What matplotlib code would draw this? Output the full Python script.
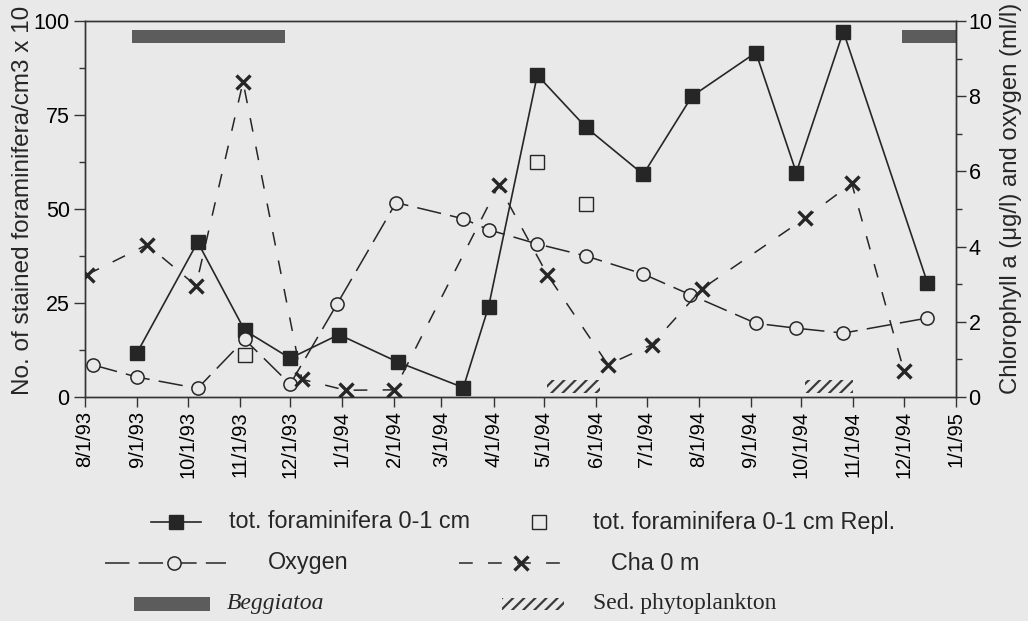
import pandas as pd
import matplotlib
matplotlib.use('Agg')
import matplotlib.pyplot as plt
import matplotlib.dates as mdates
from matplotlib.ticker import MultipleLocator

# total foraminifera 0-1 cm (left axis, no. / cm3 x 10)
foram_dates = ['1993-09-01', '1993-10-07', '1993-11-04', '1993-12-01', '1993-12-30',
               '1994-02-03', '1994-03-14', '1994-03-29', '1994-04-27', '1994-05-26',
               '1994-06-29', '1994-07-28', '1994-09-04', '1994-09-28', '1994-10-26',
               '1994-12-15']
foram_counts = [11.8, 41.2, 17.7, 10.3, 16.6, 9.3, 2.5, 24.0, 85.6, 71.7,
                59.2, 80.0, 91.6, 59.7, 97.2, 30.4]

# replicate cores
repl_dates = ['1993-11-04', '1994-04-27', '1994-05-26']
repl_counts = [11.3, 62.4, 51.2]

# oxygen (ml/l, right axis)
oxy_dates = ['1993-08-06', '1993-09-01', '1993-10-07', '1993-11-04', '1993-12-01',
             '1993-12-29', '1994-02-02', '1994-03-14', '1994-03-29', '1994-04-27',
             '1994-05-26', '1994-06-29', '1994-07-27', '1994-09-04', '1994-09-28',
             '1994-10-26', '1994-12-15']
oxy_values = [0.85, 0.53, 0.23, 1.53, 0.34, 2.48, 5.17, 4.74, 4.45, 4.07,
              3.75, 3.27, 2.72, 1.96, 1.83, 1.70, 2.10]

# chlorophyll a at 0 m (ug/l, right axis)
cha_dates = ['1993-08-02', '1993-09-07', '1993-10-06', '1993-11-03', '1993-12-08',
             '1994-01-03', '1994-02-01', '1994-04-04', '1994-05-03', '1994-06-08',
             '1994-07-04', '1994-08-03', '1994-10-03', '1994-10-31', '1994-12-01']
cha_values = [3.25, 4.05, 2.96, 8.38, 0.47, 0.18, 0.19, 5.63, 3.25, 0.86,
              1.39, 2.88, 4.75, 5.68, 0.70]

# periods with Beggiatoa mats and sedimented phytoplankton
beggiatoa_start = ['1993-08-29', '1994-11-30']
beggiatoa_end = ['1993-11-28', '1995-01-01']
phyto_start = ['1994-05-03', '1994-10-03']
phyto_end = ['1994-06-03', '1994-11-01']

month_ticks = pd.date_range('1993-08-01', '1995-01-01', freq='MS')

bg = '#e9e9e9'
ink = '#262626'
sans = ['Liberation Sans', 'DejaVu Sans']
serif = ['Liberation Serif', 'DejaVu Serif']
plt.rcParams['font.family'] = sans
plt.rcParams['hatch.linewidth'] = 1.6
plt.rcParams['hatch.color'] = '#3a3a3a'

fig = plt.figure(figsize=(10.28, 6.21), dpi=100, facecolor=bg)
ax = fig.add_axes([85 / 1028, 224 / 621, 871 / 1028, 376 / 621])
ax.set_facecolor(bg)
ax2 = ax.twinx()

def spans(starts, ends):
    s = mdates.date2num(pd.to_datetime(starts))
    e = mdates.date2num(pd.to_datetime(ends))
    return list(zip(s, e - s))

ax.broken_barh(spans(beggiatoa_start, beggiatoa_end), (94.2, 3.3),
               facecolor='#5c5c5c', edgecolor='none', zorder=2)
ax.broken_barh(spans(phyto_start, phyto_end), (1.0, 3.6),
               facecolor='none', edgecolor='#3a3a3a', linewidth=0, hatch='///', zorder=2)

ax.plot(pd.to_datetime(foram_dates), foram_counts, color=ink, lw=1.2,
        marker='s', ms=10, mfc=ink, mec=ink, zorder=4)
ax.plot(pd.to_datetime(repl_dates), repl_counts, ls='none',
        marker='s', ms=9.5, mfc=bg, mec=ink, mew=1.0, zorder=4)

ax2.plot(pd.to_datetime(oxy_dates), oxy_values, color=ink, lw=1.1, dashes=(16, 6),
         marker='o', ms=9.5, mfc=bg, mec=ink, mew=1.1, zorder=3)
ax2.plot(pd.to_datetime(cha_dates), cha_values, color=ink, lw=1.1, dashes=(9, 10),
         marker='x', ms=9.5, mec=ink, mew=2.4, zorder=3)

ax.set_xlim(pd.Timestamp('1993-08-01'), pd.Timestamp('1995-01-01'))
ax.set_ylim(0, 100)
ax2.set_ylim(0, 10)
ax.set_xticks(month_ticks)
ax.set_xticklabels([f'{d.month}/{d.day}/{d:%y}' for d in month_ticks],
                   rotation=90, fontsize=14.5)
ax.yaxis.set_major_locator(MultipleLocator(25))
ax.yaxis.set_minor_locator(MultipleLocator(12.5))
ax2.yaxis.set_major_locator(MultipleLocator(2))
ax2.yaxis.set_minor_locator(MultipleLocator(1))

for a in (ax, ax2):
    for sp in a.spines.values():
        sp.set_color('#333333')
        sp.set_linewidth(1.0)
ax.tick_params(axis='x', length=7, width=1, color='#333333', pad=3)
ax.tick_params(axis='y', which='major', length=8, width=1, color='#333333',
               labelsize=15.5, pad=3)
ax.tick_params(axis='y', which='minor', length=4, width=1, color='#333333')
ax2.tick_params(axis='y', which='major', length=7, width=1, color='#333333',
                labelsize=15.5, pad=2)
ax2.tick_params(axis='y', which='minor', length=4, width=1, color='#333333')

fig.text(23 / 1028, 1 - 200 / 621, 'No. of stained foraminifera/cm3 x 10',
         rotation=90, ha='center', va='center', fontsize=17.5, color=ink)
fig.text(1011 / 1028, 1 - 198 / 621, 'Chlorophyll a (\u03bcg/l) and oxygen (ml/l)',
         rotation=90, ha='center', va='center', fontsize=17.2, color=ink)

# key below the plot, laid out in pixel units
leg = fig.add_axes([0, 0, 1, 1], zorder=-1)
leg.set_xlim(0, 1028)
leg.set_ylim(621, 0)
leg.axis('off')

row1, row2, row3 = 522, 563, 604
leg.plot([151, 201], [row1, row1], color=ink, lw=1.2)
leg.plot([176], [row1], marker='s', ms=10, color=ink)
leg.text(229, row1, 'tot. foraminifera 0-1 cm', va='center', fontsize=16.8, color=ink)
leg.plot([539], [row1], marker='s', ms=9.5, mfc=bg, mec=ink, mew=1.0)
leg.text(593, row1, 'tot. foraminifera 0-1 cm Repl.', va='center', fontsize=16.8, color=ink)

leg.plot([105, 226], [row2, row2], color=ink, lw=1.1, dashes=(16, 6))
leg.plot([174], [row2], marker='o', ms=9.5, mfc=bg, mec=ink, mew=1.1)
leg.text(268, row2, 'Oxygen', va='center', fontsize=16.8, color=ink)
leg.plot([459, 566], [row2, row2], color=ink, lw=1.1, dashes=(9, 10))
leg.plot([521], [row2], marker='x', ms=9.5, mec=ink, mew=2.4)
leg.text(611, row2, 'Cha 0 m', va='center', fontsize=16.8, color=ink)

leg.add_patch(plt.Rectangle((134, row3 - 7), 76, 14, facecolor='#5c5c5c', edgecolor='none'))
leg.text(227, row3, 'Beggiatoa', va='center', fontsize=17, style='italic',
         family=serif, color=ink)
leg.add_patch(plt.Rectangle((502, row3 - 6), 62, 12, facecolor='none',
                            edgecolor='#3a3a3a', linewidth=0, hatch='///'))
leg.text(593, row3, 'Sed. phytoplankton', va='center', fontsize=17,
         family=serif, color=ink)

fig.savefig('out.png', dpi=100, facecolor=bg)
